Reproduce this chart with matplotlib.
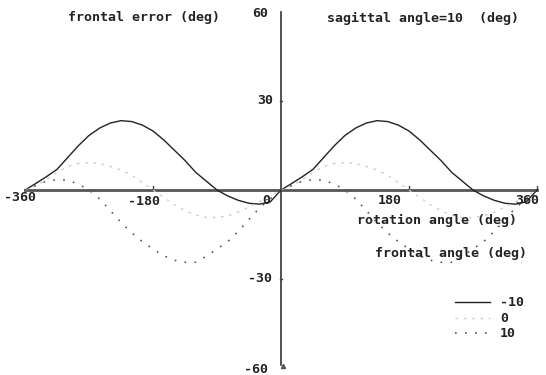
import matplotlib
matplotlib.use("Agg")
import matplotlib.pyplot as plt

# rotation angle (deg), one period (both halves look the same)
angle = [0, 15, 30, 45, 60, 75, 90, 105, 120, 135, 150, 165, 180,
         195, 210, 225, 240, 255, 270, 285, 300, 315, 330, 345, 360]

# frontal error (deg) for each frontal angle
err_m10 = [0, 2.2, 4.5, 7, 11, 15, 18.5, 21, 22.7, 23.5, 23.2, 22, 20,
           17, 13.5, 10, 6, 3, 0, -2, -3.5, -4.5, -4.8, -4, 0]
err_0 = [0, 1.5, 3.5, 6, 8, 9, 9.3, 9, 8, 6.8, 5, 2.5, 0,
         -2.5, -5, -7, -8.5, -9.3, -9.3, -8.8, -7.5, -5.8, -4, -2, 0]
err_p10 = [0, 1.5, 3, 3.5, 3.3, 2, 0, -3, -7, -11, -14.5, -17.5, -20,
           -22.3, -23.8, -24.5, -24.5, -22.5, -20, -17.5, -14, -10, -6, -3, 0]

legend_labels = ["-10", "0", "10"]
x_ticklabels = ["-360", "-180", "0", "180", "360"]
y_ticks = [60, 30, -30, -60]
y_ticklabels = ["60", "30", "-30", "-60"]

font = dict(family="DejaVu Sans Mono", weight="bold", fontsize=9.5, color="#222222")

fig = plt.figure(figsize=(5.46, 3.75), dpi=100)
ax = fig.add_axes([0, 0, 1, 1])
ax.set_xlim(-395.2, 372.7)
ax.set_ylim(-62.7, 64.4)
ax.axis("off")

# axes through the origin
ax.plot([-360, 360], [0, 0], color="#555555", lw=2.0, zorder=1)
ax.plot([0, 0], [-59.3, 60.3], color="#333333", lw=1.2, zorder=1)
ax.plot([3], [-59.5], marker="^", ms=3, color="#555555")
for t in [-180, 180, 360]:
    ax.plot([t, t], [0, 1.2], color="#444444", lw=1)
for t in [30, -30]:
    ax.plot([-2, 2], [t, t], color="#444444", lw=1)

styles = [
    dict(color="#222222", lw=1.0, ls="-"),
    dict(color="#d0d0d0", lw=1.0, ls=(0, (2, 4))),
    dict(color="#555555", lw=1.2, ls=(0, (1, 5))),
]
series = [err_m10, err_0, err_p10]

for vals, st in zip(series, styles):
    left = [a - 360 for a in angle]
    ax.plot(left, vals, **st)
    ax.plot(angle, vals, **st)

# tick labels
xt_pos = [(-390, -2.4), (-215, -3.8), (-15.5, -3.7), (136, -3.4), (329, -3.4)]
for (px, py), lab in zip(xt_pos, x_ticklabels):
    ha = "right" if lab == "0" else "left"
    ax.text(px, py, lab, ha=ha, va="center", **font)
yt_x = [-18, -11, -12, -18]
yt_y = [59.7, 30.5, -30, -60.7]
for px, py, lab in zip(yt_x, yt_y, y_ticklabels):
    ax.text(px, py, lab, ha="right", va="center", **font)

# titles
ax.text(-299.6, 58.3, "frontal error (deg)", ha="left", va="center", **font)
ax.text(64.7, 58.3, "sagittal angle=10  (deg)", ha="left", va="center", **font)
ax.text(107, -10.2, "rotation angle (deg)", ha="left", va="center", **font)
ax.text(132, -21.4, "frontal angle (deg)", ha="left", va="center", **font)

# legend
leg_y = [-38, -43.4, -48.5]
for ly, st, lab in zip(leg_y, styles, legend_labels):
    ax.plot([245, 294], [ly, ly], **st)
    ax.text(308, ly, lab, ha="left", va="center", **font)

fig.savefig("out.png", dpi=100)
